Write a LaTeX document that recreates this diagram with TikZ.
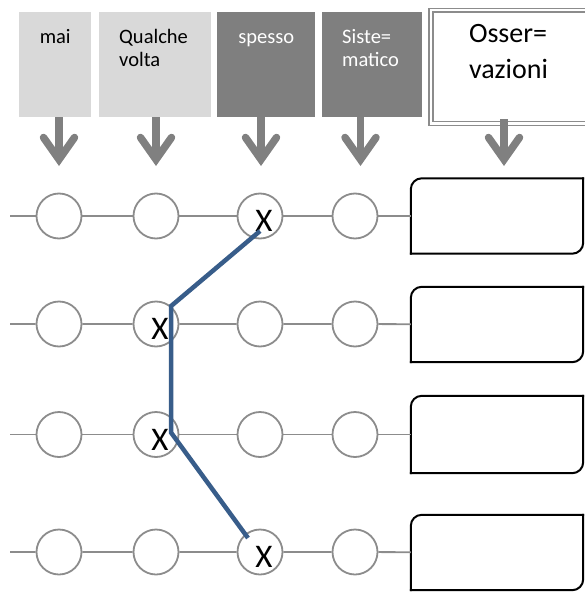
\documentclass[tikz,border=0pt]{standalone}
\usepackage{fontspec}
\setmainfont{Carlito}
\usepackage{tikz}
\usetikzlibrary{arrows.meta,calc}

\definecolor{lightbox}{HTML}{D9D9D9}
\definecolor{darkbox}{HTML}{7F7F7F}
\definecolor{arrowgray}{HTML}{808080}
\definecolor{ringgray}{HTML}{8C8C8C}
\definecolor{framegray}{HTML}{8C8C8C}
\definecolor{pathblue}{HTML}{385D8A}

\tikzset{
	head/.style={anchor=north west, inner ysep=0pt, text height=31pt, text depth=74pt, font=\fontsize{20.5}{23.4}\selectfont},
	bigarrow/.style={draw=arrowgray, line width=7.5pt, -{Straight Barb[length=22pt,width=31pt,line width=7.5pt,line cap=round,line join=miter]}},
	ring/.style={circle, draw=ringgray, fill=white, line width=1.8pt, minimum size=45pt, inner sep=0pt},
	chosen/.style={label={[font=\fontsize{33}{33}\selectfont, inner sep=0pt, xshift=4pt, yshift=-5pt]center:X}},
	rowline/.style={draw=ringgray, line width=1.8pt},
	obsbox/.style={minimum width=172pt, minimum height=75pt, inner sep=0pt},
	boxline/.style={draw=black, line width=2pt, rounded corners=11pt, line cap=rect},
	pathline/.style={draw=pathblue, line width=4.5pt}
}

% frame with two rounded corners
\newcommand{\obsframe}[1]{\draw[boxline] (#1.south west) -- (#1.north west) -- (#1.north east);
	\draw[boxline] (#1.north east) -- (#1.south east) -- (#1.south west);}

\begin{document}
\begin{tikzpicture}[x=1pt,y=-1pt]
	\useasboundingbox (0,0) rectangle (585,594);

	% column heads
	\node[head,fill=lightbox,text width=72pt,inner xsep=0pt,align=center] (mai) at (19,12) {mai};
	\node[head,fill=lightbox,text width=72pt,inner xsep=20pt,align=left] (qualche) at (99,12) {Qualche\\volta};
	\node[head,fill=darkbox,text=white,text width=98pt,inner xsep=0pt,align=center] (spesso) at (217,12) {spesso};
	\node[head,fill=darkbox,text=white,text width=60pt,inner xsep=20pt,align=left] (sistematico) at (322,12) {Siste=\\matico};
	\node[draw=framegray,double,double distance=2.5pt,line width=1.4pt,anchor=north west,inner xsep=38pt,inner ysep=0pt,text width=104pt,align=left,text height=32.5pt,text depth=81pt,font=\fontsize{28}{35.6}\selectfont] (osservazioni) at (430.3,9.5) {Osser=\\vazioni};

	\coordinate (maitip) at (59,166);
	\coordinate (qualchetip) at (156,166);
	\coordinate (spessotip) at (261,166);
	\coordinate (sistematicotip) at (360.5,166);
	\coordinate (osservazionitip) at (504,166);
	\draw[bigarrow] (maitip |- mai.south) -- (maitip);
	\draw[bigarrow] (qualchetip |- qualche.south) -- (qualchetip);
	\draw[bigarrow] (spessotip |- spesso.south) -- (spessotip);
	\draw[bigarrow] (sistematicotip |- sistematico.south) -- (sistematicotip);
	\draw[bigarrow] ([yshift=5pt]osservazionitip |- osservazioni.south) -- (osservazionitip);

	% row 1
	\coordinate (start1) at (10,216);
	\node[ring] (c11) at (59,216) {};
	\node[ring] (c12) at (156,216) {};
	\node[ring,chosen] (c13) at (260,216) {};
	\node[ring] (c14) at (355,216) {};
	\node[obsbox] (obs1) at (497,216) {};
	\obsframe{obs1}
	\draw[rowline] (start1) -- (c11) -- (c12) -- (c13) -- (c14) -- (obs1);

	% row 2
	\coordinate (start2) at (10,324);
	\node[ring] (c21) at (59,324) {};
	\node[ring,chosen] (c22) at (156,324) {};
	\node[ring] (c23) at (260,324) {};
	\node[ring] (c24) at (355,324) {};
	\node[obsbox] (obs2) at (497,324.5) {};
	\obsframe{obs2}
	\draw[rowline] (start2) -- (c21) -- (c22) -- (c23) -- (c24) -- (obs2);

	% row 3
	\coordinate (start3) at (10,434.5);
	\node[ring] (c31) at (59,434.5) {};
	\node[ring,chosen] (c32) at (156,434.5) {};
	\node[ring] (c33) at (260,434.5) {};
	\node[ring] (c34) at (355,434.5) {};
	\node[obsbox,minimum height=77pt] (obs3) at (497,434.5) {};
	\obsframe{obs3}
	\draw[rowline] (start3) -- (c31) -- (c32) -- (c33) -- (c34) -- (obs3);

	% row 4
	\coordinate (start4) at (10,552);
	\node[ring] (c41) at (59,552) {};
	\node[ring] (c42) at (156,552) {};
	\node[ring,chosen] (c43) at (260,552) {};
	\node[ring] (c44) at (355,552) {};
	\node[obsbox] (obs4) at (497,552.5) {};
	\obsframe{obs4}
	\draw[rowline] (start4) -- (c41) -- (c42) -- (c43) -- (c44) -- (obs4);

	% answers
	\draw[pathline] ($(c13)+(0,15)$) -- (c22.50) -- ($(c32)+(15,-2)$) -- ($(c43)+(-12,-14)$);
\end{tikzpicture}
\end{document}
